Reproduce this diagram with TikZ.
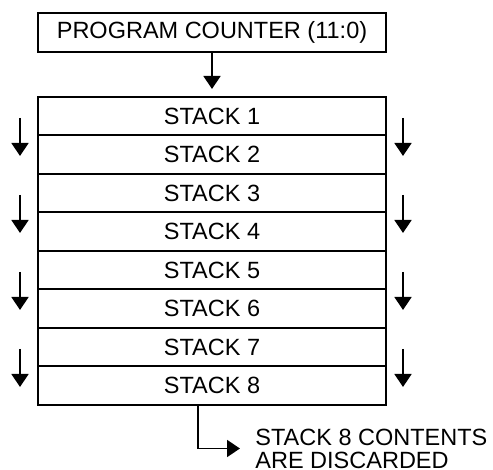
\documentclass[tikz,border=0pt]{standalone}
\usepackage{fontspec}
\setmainfont{Liberation Sans}
\usetikzlibrary{arrows.meta}
\tikzset{ stack_row/.style = {rectangle, draw, line width=1pt, minimum width=174pt, minimum height=19.25pt, inner sep=0pt, font=\fontsize{11.75}{14.25}\selectfont} }
\tikzset{ push/.style = {-{Triangle[width=8.5pt,length=6.5pt]}, line width=0.75pt} }

\begin{document}
\begin{tikzpicture}[x=0.5pt,y=-0.5pt]
    \useasboundingbox (0,0) rectangle (493,470);
    \node[stack_row, minimum height=19.5pt] (pc) at (212,32.5) {PROGRAM COUNTER (11:0)};
    \foreach \i in {1,...,8} {
        \node[stack_row] (s\i) at (212,{97+38.5*(\i-0.5)}) {STACK \i};
    }
    \draw[push, shorten >=3.5pt] (pc) -- (s1);
    % shift arrows on both sides
    \foreach \k in {1,...,4} {
        \coordinate (la\k) at (20,{77*\k+58.5-17.5});
        \coordinate (lb\k) at (20,{77*\k+58.5+20.5});
        \coordinate (ra\k) at (403,{77*\k+58.5-17.5});
        \coordinate (rb\k) at (403,{77*\k+58.5+20.5});
        \draw[push] (la\k) -- (lb\k);
        \draw[push] (ra\k) -- (rb\k);
    }
    \coordinate (drop) at (198,405);
    \node[anchor=west, inner sep=0pt, inner xsep=7.5pt, align=left, font=\fontsize{11.75}{11.5}\selectfont] (msg) at (240,448.5) {STACK 8 CONTENTS\\ARE DISCARDED};
    \draw[push] (drop) |- (msg.west);
\end{tikzpicture}
\end{document}
